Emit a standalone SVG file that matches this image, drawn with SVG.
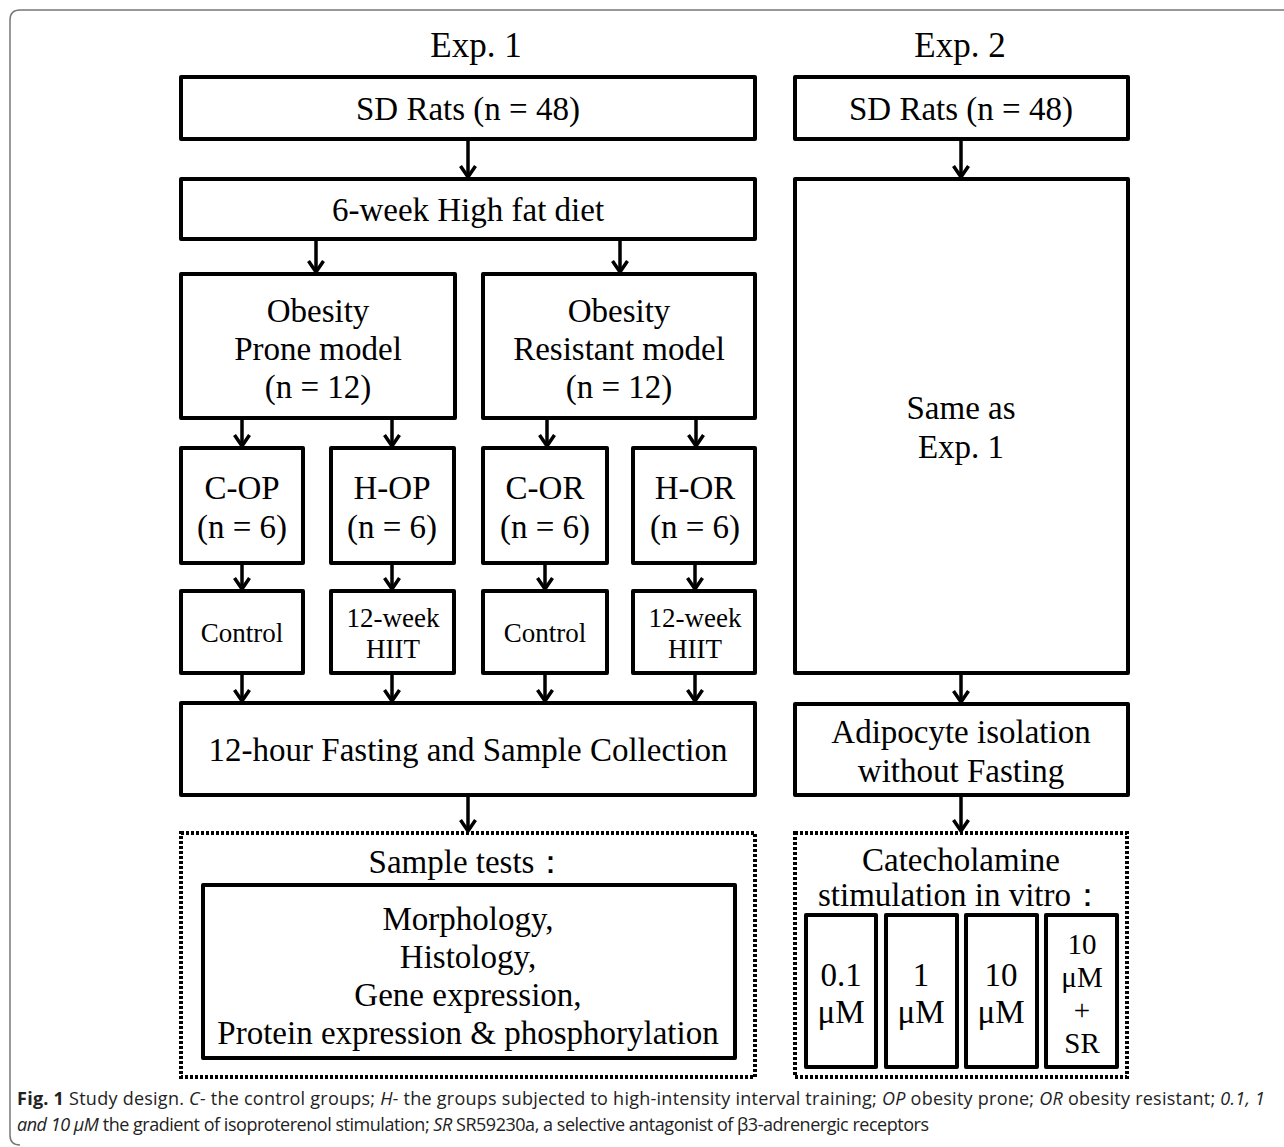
<svg xmlns="http://www.w3.org/2000/svg" width="1284" height="1147" viewBox="0 0 1284 1147">
  <style>
    .box { fill: #fff; stroke: #000; stroke-width: 4; stroke-linejoin: round; }
    .dot { fill: none; stroke: #000; stroke-width: 4; stroke-dasharray: 3 2; }
    .t { font-family: "Liberation Serif", "Times New Roman", serif; fill: #000; text-anchor: middle; }
    .big { font-size: 33px; }
    .head { font-size: 35px; }
    .sr { font-size: 29px; }
    .sm { font-size: 27px; }
    .cap { font-family: "Open Sans", "Liberation Sans", sans-serif; font-size: 18px; fill: #222; }
    .conn line { stroke: #000; stroke-width: 3.5; marker-end: url(#ah); }
  </style>
  <defs>
    <marker id="ah" viewBox="-14 -10 16 20" refX="0" refY="0" markerWidth="16" markerHeight="20" markerUnits="userSpaceOnUse" orient="auto">
      <polyline points="-11,-7.5 0,0 -11,7.5" fill="none" stroke="#000" stroke-width="3.5"/>
    </marker>
  </defs>

  <rect width="1284" height="1147" fill="#fff"/>
  <!-- figure frame, open on the right -->
  <path d="M1290,10 H20 Q10,10 10,20 V1135 Q10,1145 20,1145" fill="none" stroke="#777" stroke-width="1.5"/>

  <!-- column headings -->
  <text class="t head" x="476" y="57">Exp. 1</text>
  <text class="t head" x="960" y="57">Exp. 2</text>

  <!-- Exp. 1 -->
  <g id="sd-rats-1">
    <rect class="box" x="181" y="77" width="574" height="62"/>
    <text class="t big" x="468" y="120">SD Rats (n = 48)</text>
  </g>
  <g id="high-fat-diet">
    <rect class="box" x="181" y="179" width="574" height="60"/>
    <text class="t big" x="468" y="221">6-week High fat diet</text>
  </g>
  <g id="op-model">
    <rect class="box" x="181" y="274" width="274" height="144"/>
    <text class="t big" x="318" y="322">Obesity</text>
    <text class="t big" x="318" y="360">Prone model</text>
    <text class="t big" x="318" y="398">(n = 12)</text>
  </g>
  <g id="or-model">
    <rect class="box" x="483" y="274" width="272" height="144"/>
    <text class="t big" x="619" y="322">Obesity</text>
    <text class="t big" x="619" y="360">Resistant model</text>
    <text class="t big" x="619" y="398">(n = 12)</text>
  </g>
  <g id="c-op">
    <rect class="box" x="181" y="448" width="122" height="115"/>
    <text class="t big" x="242" y="499">C-OP</text>
    <text class="t big" x="242" y="538">(n = 6)</text>
  </g>
  <g id="h-op">
    <rect class="box" x="331" y="448" width="123" height="115"/>
    <text class="t big" x="392" y="499">H-OP</text>
    <text class="t big" x="392" y="538">(n = 6)</text>
  </g>
  <g id="c-or">
    <rect class="box" x="483" y="448" width="124" height="115"/>
    <text class="t big" x="545" y="499">C-OR</text>
    <text class="t big" x="545" y="538">(n = 6)</text>
  </g>
  <g id="h-or">
    <rect class="box" x="633" y="448" width="122" height="115"/>
    <text class="t big" x="695" y="499">H-OR</text>
    <text class="t big" x="695" y="538">(n = 6)</text>
  </g>
  <g id="op-control">
    <rect class="box" x="181" y="591" width="122" height="82"/>
    <text class="t sm" x="242" y="642">Control</text>
  </g>
  <g id="op-hiit">
    <rect class="box" x="331" y="591" width="123" height="82"/>
    <text class="t sm" x="393" y="627">12-week</text>
    <text class="t sm" x="393" y="658">HIIT</text>
  </g>
  <g id="or-control">
    <rect class="box" x="483" y="591" width="124" height="82"/>
    <text class="t sm" x="545" y="642">Control</text>
  </g>
  <g id="or-hiit">
    <rect class="box" x="633" y="591" width="122" height="82"/>
    <text class="t sm" x="695" y="627">12-week</text>
    <text class="t sm" x="695" y="658">HIIT</text>
  </g>
  <g id="fasting">
    <rect class="box" x="181" y="703" width="574" height="92"/>
    <text class="t big" x="468" y="761">12-hour Fasting and Sample Collection</text>
  </g>
  <g id="sample-tests">
    <rect class="dot" x="181" y="833" width="574" height="244"/>
    <text class="t big" x="468" y="873">Sample tests：</text>
    <rect class="box" x="203" y="885" width="532" height="173"/>
    <text class="t big" x="468" y="930">Morphology,</text>
    <text class="t big" x="468" y="968">Histology,</text>
    <text class="t big" x="468" y="1006">Gene expression,</text>
    <text class="t big" x="468" y="1044">Protein expression &amp; phosphorylation</text>
  </g>

  <!-- Exp. 2 -->
  <g id="sd-rats-2">
    <rect class="box" x="795" y="77" width="333" height="62"/>
    <text class="t big" x="961" y="120">SD Rats (n = 48)</text>
  </g>
  <g id="same-as-exp1">
    <rect class="box" x="795" y="179" width="333" height="494"/>
    <text class="t big" x="961" y="419">Same as</text>
    <text class="t big" x="961" y="458">Exp. 1</text>
  </g>
  <g id="adipocyte-isolation">
    <rect class="box" x="795" y="704" width="333" height="91"/>
    <text class="t big" x="961" y="743">Adipocyte isolation</text>
    <text class="t big" x="961" y="782">without Fasting</text>
  </g>
  <g id="catecholamine">
    <rect class="dot" x="795" y="833" width="332" height="244"/>
    <text class="t big" x="961" y="871">Catecholamine</text>
    <text class="t big" x="961" y="906">stimulation in vitro：</text>
  </g>
  <g id="dose-0-1">
    <rect class="box" x="806" y="915" width="70" height="152"/>
    <text class="t big" x="841" y="986">0.1</text>
    <text class="t big" x="841" y="1023">μM</text>
  </g>
  <g id="dose-1">
    <rect class="box" x="886" y="915" width="71" height="152"/>
    <text class="t big" x="921" y="986">1</text>
    <text class="t big" x="921" y="1023">μM</text>
  </g>
  <g id="dose-10">
    <rect class="box" x="966" y="915" width="71" height="152"/>
    <text class="t big" x="1001" y="986">10</text>
    <text class="t big" x="1001" y="1023">μM</text>
  </g>
  <g id="dose-10-sr">
    <rect class="box" x="1046" y="915" width="71" height="152"/>
    <text class="t sr" x="1082" y="954">10</text>
    <text class="t sr" x="1082" y="987">μM</text>
    <text class="t sr" x="1082" y="1020">+</text>
    <text class="t sr" x="1082" y="1053">SR</text>
  </g>

  <!-- connectors -->
  <g id="connectors" class="conn">
    <line x1="468" y1="139" x2="468" y2="177"/>
    <line x1="316" y1="239" x2="316" y2="272"/>
    <line x1="620" y1="239" x2="620" y2="272"/>
    <line x1="242" y1="418" x2="242" y2="446"/>
    <line x1="392" y1="418" x2="392" y2="446"/>
    <line x1="547" y1="418" x2="547" y2="446"/>
    <line x1="696" y1="418" x2="696" y2="446"/>
    <line x1="242" y1="563" x2="242" y2="589"/>
    <line x1="392" y1="563" x2="392" y2="589"/>
    <line x1="545" y1="563" x2="545" y2="589"/>
    <line x1="695" y1="563" x2="695" y2="589"/>
    <line x1="242" y1="673" x2="242" y2="701"/>
    <line x1="392" y1="673" x2="392" y2="701"/>
    <line x1="545" y1="673" x2="545" y2="701"/>
    <line x1="695" y1="673" x2="695" y2="701"/>
    <line x1="468" y1="795" x2="468" y2="831"/>
    <line x1="961" y1="139" x2="961" y2="177"/>
    <line x1="961" y1="673" x2="961" y2="702"/>
    <line x1="961" y1="795" x2="961" y2="831"/>
  </g>

  <!-- caption -->
  <text class="cap" x="17" y="1105" textLength="1248" lengthAdjust="spacing"><tspan font-weight="bold">Fig. 1</tspan>  Study design. <tspan font-style="italic">C-</tspan> the control groups; <tspan font-style="italic">H-</tspan> the groups subjected to high-intensity interval training; <tspan font-style="italic">OP</tspan> obesity prone; <tspan font-style="italic">OR</tspan> obesity resistant; <tspan font-style="italic">0.1, 1</tspan></text>
  <text class="cap" x="17" y="1131" textLength="912" lengthAdjust="spacing"><tspan font-style="italic">and 10 μM</tspan> the gradient of isoproterenol stimulation; <tspan font-style="italic">SR</tspan> SR59230a, a selective antagonist of β3-adrenergic receptors</text>
</svg>
